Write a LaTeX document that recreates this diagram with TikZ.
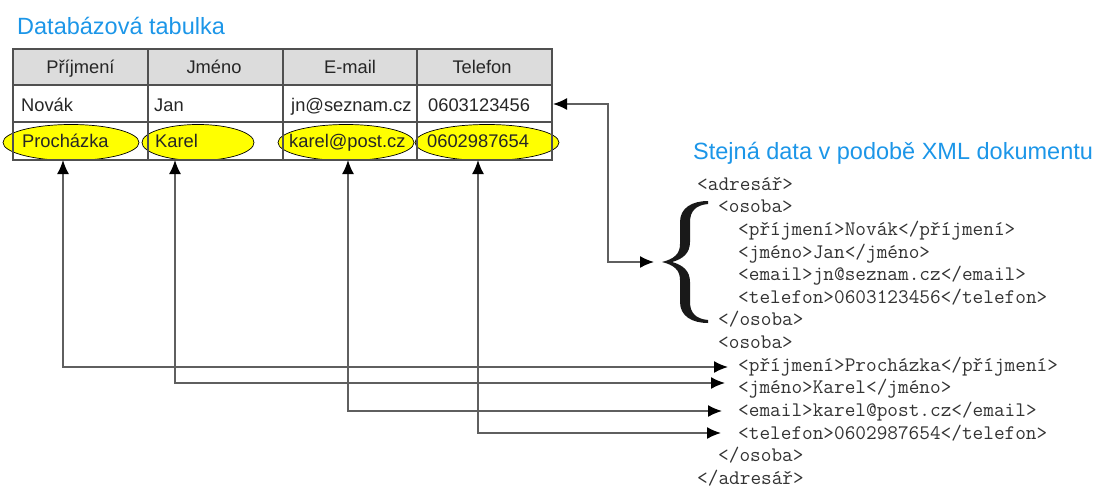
\documentclass[tikz,border=0pt]{standalone}
\usepackage{fontspec}
\setmainfont{Liberation Sans}
\usetikzlibrary{arrows.meta,shapes.geometric}
\definecolor{titleblue}{RGB}{28,150,232}
\definecolor{gridgray}{RGB}{80,80,80}
\definecolor{hdrgray}{RGB}{220,220,220}
\definecolor{linkgray}{RGB}{95,95,95}
\definecolor{hiyellow}{RGB}{255,255,0}
\begin{document}
\begin{tikzpicture}[x=1pt,y=-1pt,
  titletext/.style={anchor=base west,inner sep=0pt,text=titleblue,font=\fontsize{23.5}{26}\selectfont},
  celltext/.style={anchor=base west,inner sep=0pt,text=black!85,font=\fontsize{18.3}{20}\selectfont},
  hdrtext/.style={anchor=base,inner sep=0pt,text=black!85,font=\fontsize{18.3}{20}\selectfont},
  xmltext/.style={anchor=base west,inner sep=0pt,text=black!80,font=\ttfamily\fontsize{20.7}{22}\selectfont},
  hilite/.style={shape=ellipse,draw=black,line width=0.7pt,fill=hiyellow,inner sep=0pt,minimum height=36pt},
  gridline/.style={draw=gridgray,line width=1.8pt},
  link/.style={draw=linkgray,line width=1.6pt,
    {Latex[length=14pt,width=12pt,color=black]}-{Latex[length=14pt,width=12pt,color=black]}}
]
\useasboundingbox (0,0) rectangle (1097,487);

% titles
\node[titletext] (t1) at (17,35) {Databázová tabulka};
\node[titletext] (t2) at (693,159) {Stejná data v podobě XML dokumentu};

% table header background
\fill[hdrgray] (13,49) rectangle (552,85);

% highlight ellipses
\node[hilite,minimum width=136pt] (e1) at (71,142.5) {};
\node[hilite,minimum width=112pt] (e2) at (198,142.5) {};
\node[hilite,minimum width=136pt] (e3) at (346,142.5) {};
\node[hilite,minimum width=144pt] (e4) at (487,142.5) {};

% table grid
\draw[gridline] (13,49) rectangle (552,160);
\draw[gridline] (13,85) -- (552,85);
\draw[gridline] (13,122) -- (552,122);
\draw[gridline] (148,49) -- (148,160);
\draw[gridline] (283,49) -- (283,160);
\draw[gridline] (417,49) -- (417,160);

% header
\node[hdrtext] (h1) at (80.5,74) {Příjmení};
\node[hdrtext] (h2) at (214,74) {Jméno};
\node[hdrtext] (h3) at (350,74) {E-mail};
\node[hdrtext] (h4) at (482,74) {Telefon};

% row 1
\node[celltext] (r1a) at (21,111) {Novák};
\node[celltext] (r1b) at (154,111) {Jan};
\node[celltext] (r1c) at (291,111) {jn@seznam.cz};
\node[celltext] (r1d) at (428,111) {0603123456};

% row 2
\node[celltext] (r2a) at (22,147) {Procházka};
\node[celltext] (r2b) at (155,147) {Karel};
\node[celltext] (r2c) at (289,147) {karel@post.cz};
\node[celltext] (r2d) at (427,147) {0602987654};

% XML lines
\node[xmltext] (x0)  at (697,190)    {<adresář>};
\node[xmltext] (x1)  at (718,212.7)  {<osoba>};
\node[xmltext] (x2)  at (738,235.3)  {<příjmení>Novák</příjmení>};
\node[xmltext] (x3)  at (738,258)    {<jméno>Jan</jméno>};
\node[xmltext] (x4)  at (738,280.6)  {<email>jn@seznam.cz</email>};
\node[xmltext] (x5)  at (738,303.3)  {<telefon>0603123456</telefon>};
\node[xmltext] (x6)  at (718,325.9)  {</osoba>};
\node[xmltext] (x7)  at (718,348.6)  {<osoba>};
\node[xmltext] (x8)  at (738,371.2)  {<příjmení>Procházka</příjmení>};
\node[xmltext] (x9)  at (738,393.9)  {<jméno>Karel</jméno>};
\node[xmltext] (x10) at (738,416.5)  {<email>karel@post.cz</email>};
\node[xmltext] (x11) at (738,439.2)  {<telefon>0602987654</telefon>};
\node[xmltext] (x12) at (718,461.8)  {</osoba>};
\node[xmltext] (x13) at (697,484.5)  {</adresář>};

% curly brace
\fill[black!90] (708,201)
  .. controls (692,201) and (680,208) .. (680,222)
  -- (680,244)
  .. controls (680,254) and (674,259) .. (662,262)
  .. controls (674,265) and (680,270) .. (680,280)
  -- (680,302)
  .. controls (680,316) and (692,323) .. (708,323)
  -- (708,320)
  .. controls (696,319) and (690,313) .. (690,302)
  -- (690,282)
  .. controls (690,271) and (683,265) .. (672,262)
  .. controls (683,259) and (690,253) .. (690,242)
  -- (690,222)
  .. controls (690,211) and (696,205) .. (708,204)
  -- cycle;

% connector endpoints
\coordinate (rowtip) at (553,104);
\coordinate (bend)   at (608,262);
\coordinate (bracetip) at (654,262);
\coordinate (p1) at (63,160);
\coordinate (p2) at (175,160);
\coordinate (p3) at (348,160);
\coordinate (p4) at (478,160);
\coordinate (a1) at (728,367);
\coordinate (a2) at (725,383);
\coordinate (a3) at (722,411);
\coordinate (a4) at (721,433);

% connectors
\draw[link] (rowtip) -| (bend) -- (bracetip);
\draw[link] (p1) |- (a1);
\draw[link] (p2) |- (a2);
\draw[link] (p3) |- (a3);
\draw[link] (p4) |- (a4);
\end{tikzpicture}
\end{document}
